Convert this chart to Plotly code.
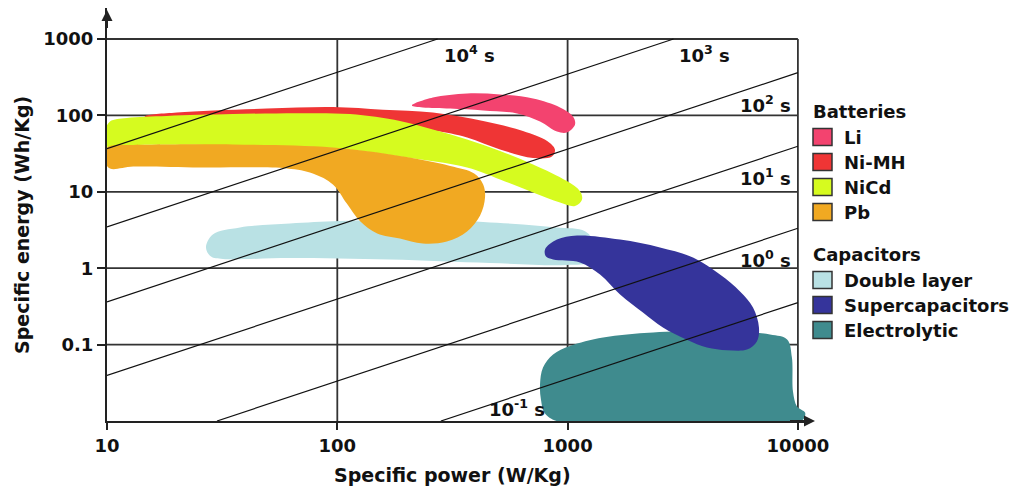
import math
import plotly.graph_objects as go

# ------------------------------------------------------------------ data
x_tick_vals = [10, 100, 1000, 10000]
x_tick_text = ["10", "100", "1000", "10000"]
y_tick_vals = [0.1, 1, 10, 100, 1000]
y_tick_text = ["0.1", "1", "10", "100", "1000"]
grid_power = [100, 1000, 10000]
grid_energy = [0.1, 1, 10, 100, 1000]
power_bounds = [10, 10000]        # W/kg
energy_bounds = [0.01, 1000]      # Wh/kg

# constant discharge-time lines: label and energy read at 1000 W/kg
time_labels = ["10<sup>4</sup> s", "10<sup>3</sup> s", "10<sup>2</sup> s",
               "10<sup>1</sup> s", "10<sup>0</sup> s", "10<sup>-1</sup> s"]
time_energy_at_1kw = [3670, 347, 36.3, 3.94, 0.333, 0.0355]

# region outlines (specific power W/kg, specific energy Wh/kg)
li_power = [211, 260, 366, 509, 708, 927, 1055, 1077, 993, 899, 759, 603, 430, 309, 235]
li_energy = [135, 171, 194, 188, 166, 127, 96.8, 76, 59.7, 61.5, 83.2, 106, 116, 123, 127]

nimh_power = [14.6, 20.1, 49.5, 95.7, 158, 260, 430, 640, 815, 881, 855, 708, 509, 366, 260, 95.7, 25.4, 14.6]
nimh_energy = [96.8, 109, 123, 129, 119, 109, 84.5, 62.5, 46.2, 35.8, 29, 27.7, 35.8, 51.4, 63.4, 83.2, 91, 91]

nicd_power = [9.8, 10.3, 12.2, 18.2, 35.2, 68.9, 113.5, 187, 260, 366, 509, 708, 993, 1132,
              1155, 1077, 927, 708, 509, 366, 187, 95.7, 35.2, 13.0, 10]
nicd_energy = [61.5, 83.2, 92.5, 98.2, 104, 107, 104, 84.5, 65.4, 48.4, 34.2, 22.8, 13.8, 10.2,
               7.93, 6.52, 7.25, 9.8, 14.5, 20.8, 29, 37.4, 40.4, 41, 39.2]

pb_power = [9.8, 10.5, 13.0, 35.2, 95.7, 187, 309, 393, 430, 438, 417, 366, 299, 235, 187, 149,
            126, 110, 95.7, 78.3, 60.5, 25.4, 13.0, 10.3, 9.8]
pb_energy = [35.8, 40.4, 41.0, 41.6, 38.0, 29.4, 21.8, 17.4, 12.5, 8.42, 4.90, 3.02, 2.23, 2.10,
             2.45, 2.85, 4.08, 7.03, 12.5, 17.4, 20.2, 20.8, 21.4, 20.2, 24.9]

dl_power = [26.9, 28.8, 37.8, 62.3, 102.7, 228.5, 430, 640, 899, 1190, 1315, 1251, 993, 460,
            169, 62.3, 31.9, 28.3]
dl_energy = [1.87, 2.76, 3.41, 3.85, 4.15, 4.34, 4.03, 3.73, 3.41, 3.05, 2.04, 1.22, 1.10, 1.17,
             1.30, 1.36, 1.32, 1.42]

sc_power = [798, 899, 1099, 1690, 2518, 3504, 4589, 5606, 6383, 6775, 6636, 6010, 4920, 4027,
            3296, 2594, 2124, 1690, 1383, 1132, 865, 806]
sc_energy = [1.76, 2.37, 2.68, 2.37, 1.87, 1.38, 0.826, 0.496, 0.306, 0.168, 0.110, 0.086, 0.0845,
             0.0917, 0.116, 0.168, 0.263, 0.453, 0.826, 1.19, 1.30, 1.42]

el_power = [759, 782, 865, 1024, 1426, 2350, 4589, 7568, 8977, 9419, 9520, 9910, 10740, 10630,
            9910, 927, 798, 766]
el_energy = [0.0301, 0.0501, 0.0742, 0.0959, 0.124, 0.144, 0.151, 0.136, 0.117, 0.0678, 0.0243,
             0.0155, 0.0129, 0.0108, 0.0097, 0.0097, 0.0125, 0.0191]

battery_names = ["Li", "Ni-MH", "NiCd", "Pb"]
capacitor_names = ["Double layer", "Supercapacitors", "Electrolytic"]
colors = {
    "Li": "#f3436f", "Ni-MH": "#ef3535", "NiCd": "#d6fb1f", "Pb": "#f1a922",
    "Double layer": "#b9e1e4", "Supercapacitors": "#35349b", "Electrolytic": "#3f8b8e",
}

# ------------------------------------------------------------------ layout geometry
W, H = 1034, 486
ML, MR, MT, MB = 107, 224, 8, 65
PW, PH = W - ML - MR, H - MT - MB


def px_x(px):
    return (px - ML) / PW


def px_y(py):
    return (H - MB - py) / PH


FONT = "DejaVu Sans"
INK = "#111111"
GRID = "#333333"

fig = go.Figure()

# grid lines (under the regions)
gx, gy = [], []
for e in grid_energy:
    gx += [power_bounds[0], power_bounds[1], None]
    gy += [e, e, None]
for p in grid_power:
    gx += [p, p, None]
    gy += [energy_bounds[0], energy_bounds[1], None]
fig.add_trace(go.Scatter(x=gx, y=gy, mode="lines", line=dict(color=GRID, width=1.8),
                         hoverinfo="skip", showlegend=False))

# regions, drawn bottom to top
regions = [
    ("Double layer", dl_power, dl_energy),
    ("Electrolytic", el_power, el_energy),
    ("Supercapacitors", sc_power, sc_energy),
    ("Ni-MH", nimh_power, nimh_energy),
    ("NiCd", nicd_power, nicd_energy),
    ("Pb", pb_power, pb_energy),
    ("Li", li_power, li_energy),
]
for name, p, e in regions:
    fig.add_trace(go.Scatter(
        x=p + [p[0]], y=e + [e[0]], mode="lines", fill="toself",
        fillcolor=colors[name], line=dict(width=0, shape="spline", smoothing=1.0,
                                           color=colors[name]),
        name=name, hoverinfo="name", showlegend=False))

# constant-time lines (over the regions)
annotations = []
for i, (lab, e1) in enumerate(zip(time_labels, time_energy_at_1kw)):
    p_lo = max(power_bounds[0], 1000 * energy_bounds[0] / e1)
    p_hi = min(power_bounds[1], 1000 * energy_bounds[1] / e1)
    fig.add_trace(go.Scatter(x=[p_lo, p_hi], y=[e1 * p_lo / 1000, e1 * p_hi / 1000],
                             mode="lines", line=dict(color=INK, width=1.2),
                             hoverinfo="skip", showlegend=False))
    if p_hi < power_bounds[1]:
        ann = dict(x=math.log10(p_hi), y=math.log10(energy_bounds[1]), xanchor="left",
                   yanchor="top", xshift=4, yshift=-1)
    elif p_lo > power_bounds[0] and e1 * p_hi / 1000 < 1:
        ann = dict(x=math.log10(p_lo), y=math.log10(energy_bounds[0]), xanchor="left",
                   yanchor="bottom", xshift=46, yshift=-1)
    else:
        ann = dict(x=math.log10(p_hi), y=math.log10(e1 * p_hi / 1000), xanchor="right",
                   yanchor="middle", xshift=-5, yshift=-31)
    ann.update(text=lab, xref="x", yref="y", showarrow=False,
               font=dict(family=FONT, size=18, color=INK, weight="bold"))
    annotations.append(ann)

# axis titles
annotations.append(dict(text="Specific power (W/Kg)", xref="paper", yref="paper",
                        x=px_x(452), y=px_y(475), xanchor="center", yanchor="middle",
                        showarrow=False,
                        font=dict(family=FONT, size=19, color=INK, weight="bold")))
annotations.append(dict(text="Specific energy (Wh/Kg)", xref="paper", yref="paper",
                        x=px_x(22), y=px_y(225), xanchor="center", yanchor="middle",
                        showarrow=False, textangle=-90,
                        font=dict(family=FONT, size=19, color=INK, weight="bold")))

# axis arrows
annotations.append(dict(x=0, y=px_y(10), xref="paper", yref="paper", ax=0, ay=28,
                        text=" ", showarrow=True, arrowhead=2, arrowsize=1.1,
                        arrowwidth=2, arrowcolor="#222222"))
annotations.append(dict(x=px_x(815), y=0, xref="paper", yref="paper", ax=-28, ay=0,
                        text=" ", showarrow=True, arrowhead=2, arrowsize=1.1,
                        arrowwidth=2, arrowcolor="#222222"))

# manual legend
shapes = []
legend_rows = [("Batteries", None, 111.5)]
yc = 137
for n in battery_names:
    legend_rows.append((n, colors[n], yc))
    yc += 25
legend_rows.append(("Capacitors", None, 254))
yc = 280
for n in capacitor_names:
    legend_rows.append((n, colors[n], yc))
    yc += 25
for text, col, yc in legend_rows:
    if col is None:
        annotations.append(dict(text=text, xref="paper", yref="paper", x=px_x(811),
                                y=px_y(yc), xanchor="left", yanchor="middle",
                                showarrow=False,
                                font=dict(family=FONT, size=18, color=INK, weight="bold")))
    else:
        shapes.append(dict(type="rect", xref="paper", yref="paper",
                           x0=px_x(813), x1=px_x(832), y0=px_y(yc + 8.5), y1=px_y(yc - 8.5),
                           fillcolor=col, line=dict(color="#333333", width=1.5)))
        annotations.append(dict(text=text, xref="paper", yref="paper", x=px_x(842),
                                y=px_y(yc), xanchor="left", yanchor="middle",
                                showarrow=False,
                                font=dict(family=FONT, size=18, color=INK, weight="bold")))

fig.update_layout(
    width=W, height=H, autosize=False,
    margin=dict(l=ML, r=MR, t=MT, b=MB, pad=0),
    paper_bgcolor="white", plot_bgcolor="white",
    showlegend=False,
    annotations=annotations, shapes=shapes,
    xaxis=dict(type="log", range=[1, 1 + PW / 230.3], showgrid=False, zeroline=False,
               showline=True, linecolor="#222222", linewidth=2,
               tickvals=x_tick_vals, ticktext=x_tick_text, ticks="outside",
               ticklen=7, tickwidth=2, tickcolor="#222222",
               tickfont=dict(family=FONT, size=18, color=INK, weight="bold")),
    yaxis=dict(type="log", range=[-2, -2 + PH / 76.4], showgrid=False, zeroline=False,
               showline=True, linecolor="#222222", linewidth=2,
               tickvals=y_tick_vals, ticktext=y_tick_text, ticks="outside",
               ticklen=8, tickwidth=2, tickcolor="#222222",
               tickfont=dict(family=FONT, size=18, color=INK, weight="bold")),
)

fig.write_html("out.html", config={"displayModeBar": False})
